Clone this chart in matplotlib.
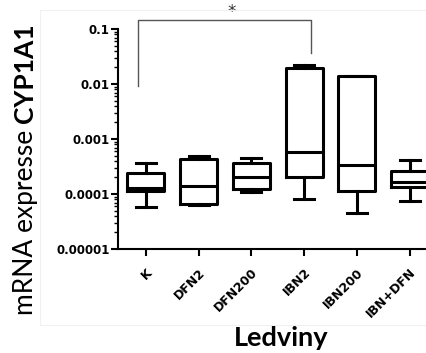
import matplotlib
matplotlib.use('Agg')
import matplotlib.pyplot as plt
from matplotlib.patches import Rectangle

# Relative CYP1A1 mRNA expression, kidney (box = quartiles, whiskers = min/max)
groups = ['K', 'DFN2', 'DFN200', 'IBN2', 'IBN200', 'IBN+DFN']
whislo = [5.9e-5, 6.2e-5, 1.1e-4, 8.0e-5, 4.6e-5, 7.5e-5]
q1 = [1.13e-4, 6.7e-5, 1.22e-4, 2.07e-4, 1.13e-4, 1.36e-4]
med = [1.3e-4, 1.4e-4, 2.07e-4, 5.7e-4, 3.4e-4, 1.68e-4]
q3 = [2.44e-4, 4.4e-4, 3.7e-4, 0.0193, 0.014, 2.66e-4]
whishi = [3.6e-4, 4.9e-4, 4.45e-4, 0.0221, 0.0142, 4.15e-4]

yticks = [1e-5, 1e-4, 1e-3, 1e-2, 1e-1]
ytick_labels = ['0.00001', '0.0001', '0.001', '0.01', '0.1']

W, H = 427, 353
fig = plt.figure(figsize=(W / 100, H / 100), dpi=100)
ax = fig.add_axes([118 / W, 104 / H, 1 - 118 / W, 220 / H])

stats = []
for i, g in enumerate(groups):
    stats.append(dict(label=g, whislo=whislo[i], q1=q1[i], med=med[i],
                      q3=q3[i], whishi=whishi[i]))

lw = 2.2
ax.bxp(stats, positions=range(len(groups)), widths=0.7, showfliers=False,
       boxprops=dict(color='black', linewidth=lw),
       medianprops=dict(color='black', linewidth=lw),
       whiskerprops=dict(color='black', linewidth=lw),
       capprops=dict(color='black', linewidth=lw), capwidths=0.38)

ax.set_yscale('log')
ax.set_ylim(1e-5, 1e-1)
ax.set_xlim(-0.53, 5.33)
ax.set_yticks(yticks)
ax.set_yticklabels(ytick_labels)
ax.set_xticks(range(len(groups)))
ax.set_xticklabels(groups, rotation=45, ha='right', rotation_mode='anchor')

for s in ['top', 'right']:
    ax.spines[s].set_visible(False)
for s in ['left', 'bottom']:
    ax.spines[s].set_linewidth(1.5)

ax.tick_params(axis='both', which='major', length=5, width=1.5, direction='out')
ax.tick_params(axis='y', which='minor', length=3, width=1.0, direction='out')
ax.tick_params(axis='y', pad=1)
ax.tick_params(axis='x', pad=7)
for t in ax.get_yticklabels():
    t.set_fontfamily('DejaVu Sans')
    t.set_fontweight('bold')
    t.set_fontsize(8.5)
for t in ax.get_xticklabels():
    t.set_fontfamily('DejaVu Sans')
    t.set_fontweight('bold')
    t.set_fontsize(9)

# significance bracket K vs IBN2
bx = [-0.15, -0.15, 3.13, 3.13]
by = [0.0092, 0.146, 0.146, 0.037]
ax.plot(bx, by, color='#555555', linewidth=1.0, clip_on=False)
ax.text(1.63, 0.2, '*', ha='center', va='center', fontsize=12,
        color='#333333', transform=ax.transData, clip_on=False)

fig.text(281 / W, 1 - 338 / H, 'Ledviny', ha='center', va='center',
         fontsize=19.5, fontweight='bold', family='Lato')

# y label: normal text followed by bold gene name
t1 = fig.text(25 / W, 1 - 315 / H, 'mRNA expresse ', rotation=90,
              rotation_mode='anchor', ha='left', va='center',
              fontsize=19, family='Lato')
fig.canvas.draw()
bb = t1.get_window_extent(fig.canvas.get_renderer())
fig.text(25 / W, bb.y1 / H, 'CYP1A1', rotation=90, rotation_mode='anchor',
         ha='left', va='center', fontsize=19, fontweight='bold', family='Lato')

fig.patches.append(Rectangle((40 / W, 1 - 325 / H), 1, 315 / H,
                             transform=fig.transFigure, fill=False,
                             edgecolor='#f0f0f0', linewidth=0.8))

plt.savefig('out.png', dpi=100)
